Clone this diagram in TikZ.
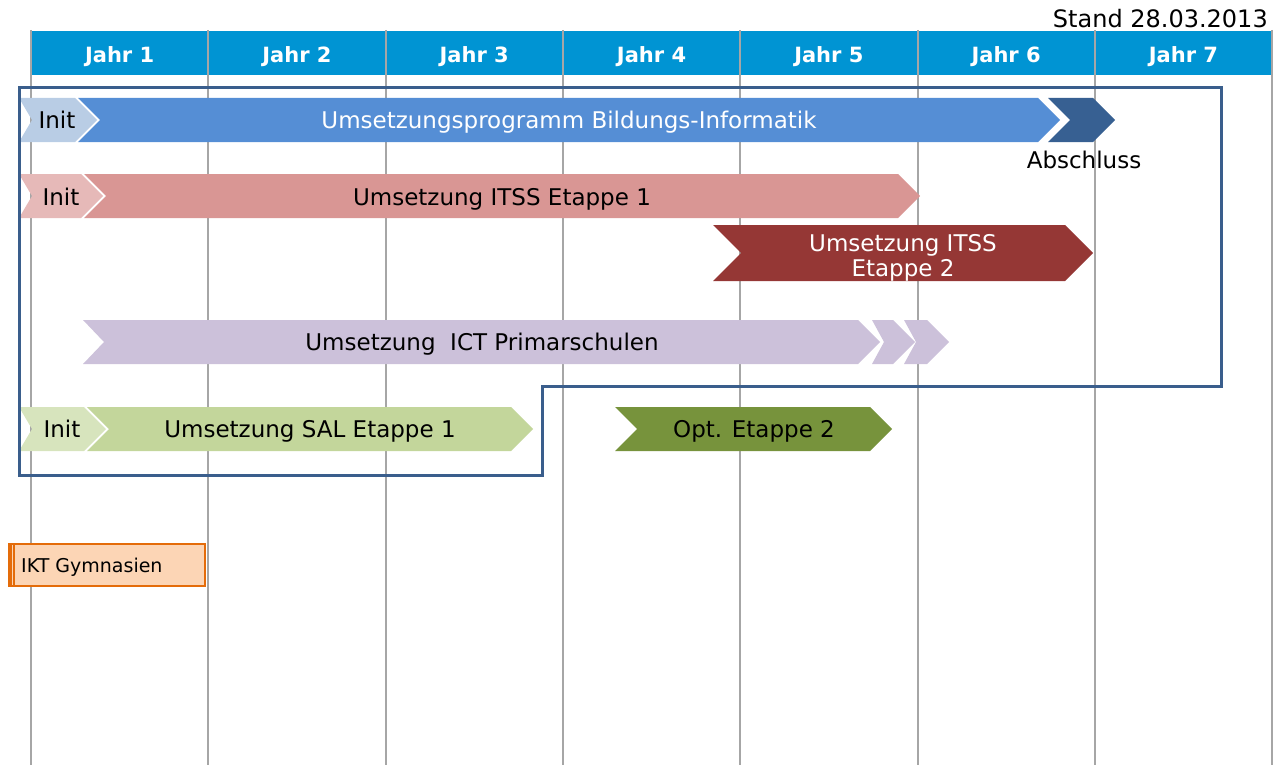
\documentclass[tikz,border=0pt]{standalone}
\usepackage{fontspec}
\setmainfont{DejaVu Sans}
\usepackage{xcolor}
\usepackage{tikz}
\usetikzlibrary{positioning}

\definecolor{hdrblue}{RGB}{0,148,211}
\definecolor{gridgray}{RGB}{166,166,166}
\definecolor{framblue}{RGB}{58,94,140}
\definecolor{initblue}{RGB}{185,205,229}
\definecolor{progblue}{RGB}{85,142,213}
\definecolor{endblue}{RGB}{55,96,146}
\definecolor{initrose}{RGB}{230,185,184}
\definecolor{itssrose}{RGB}{217,150,148}
\definecolor{itssred}{RGB}{149,55,53}
\definecolor{ictlila}{RGB}{204,193,218}
\definecolor{initgreen}{RGB}{215,228,189}
\definecolor{salgreen}{RGB}{195,214,155}
\definecolor{optgreen}{RGB}{119,147,60}
\definecolor{iktpeach}{RGB}{252,213,181}
\definecolor{iktorange}{RGB}{228,108,10}

% #1 colour, #2 left, #3 right (top corner), #4 top, #5 bottom, #6 notch depth
\newcommand{\chevron}[6]{%
  \fill[#1] (#2,#4) -- (#3,#4) -- ({#3+(#5-#4)/2},{(#4+#5)/2}) -- (#3,#5)
    -- (#2,#5) -- ({#2+#6},{(#4+#5)/2}) -- cycle;}

\begin{document}
\begin{tikzpicture}[x=1pt, y=-1pt,
    hdr/.style={font=\fontsize{21}{24}\selectfont\bfseries, text=white, text height=15pt, text depth=0pt, inner sep=0pt},
    lbl/.style={font=\fontsize{23}{25}\selectfont, text height=17pt, text depth=0pt, inner sep=0pt}]
    \useasboundingbox (0,0) rectangle (1276,765);
    \fill[hdrblue] (31,31) rectangle (1272,75);
    \foreach \i in {0,...,7}
        \draw[gridgray, line width=2] ({31+177.3*\i},30) -- ({31+177.3*\i},765);
    \foreach \i in {1,...,7}
        \node[hdr] (jahr\i) at ({31+177.3*(\i-0.5)},55) {Jahr \i};
    \node[font=\fontsize{24}{27}\selectfont, anchor=base east, inner sep=0pt] (stand) at (1268,28) {Stand 28.03.2013};

    \chevron{initblue}{19}{75}{98}{142}{13}
    \chevron{progblue}{78}{1038}{98}{142}{22}
    \chevron{endblue}{1048}{1093}{98}{142}{22}
    \node[lbl] (init1) at (57,120) {Init};
    \node[lbl, text=white] (prog) at (569,120) {Umsetzungsprogramm Bildungs-Informatik};
    \node[lbl] (abschluss) at (1084,160) {Abschluss};

    \chevron{initrose}{19}{81}{174}{218}{13}
    \chevron{itssrose}{84}{898}{174}{218}{22}
    \node[lbl] (init2) at (61,197) {Init};
    \node[lbl] (itss1) at (502,197) {Umsetzung ITSS Etappe 1};

    \chevron{itssred}{713}{1065}{225}{281}{28}
    \node[lbl, text=white, text height=, align=center] (itss2) at (903,255) {Umsetzung ITSS\\Etappe 2};

    \chevron{ictlila}{83}{858}{320}{364}{21}
    \chevron{ictlila}{872}{893}{320}{364}{12}
    \chevron{ictlila}{904}{927}{320}{364}{12}
    \node[lbl] (ict) at (482,342) {Umsetzung\ \ ICT Primarschulen};

    \chevron{initgreen}{19}{84}{407}{451}{13}
    \chevron{salgreen}{87}{511}{407}{451}{22}
    \chevron{optgreen}{615}{870}{407}{451}{22}
    \node[lbl] (init3) at (62,429) {Init};
    \node[lbl] (sal1) at (310,429) {Umsetzung SAL Etappe 1};
    \node[lbl] (opt2) at (754,429) {Opt. Etappe 2};

    \draw[framblue, line width=3, line join=miter]
        (19,88) -- (1221,88) -- (1221,386) -- (542,386) -- (542,475) -- (19,475) -- cycle;

    \node[draw=iktorange, fill=iktpeach, line width=1.5, minimum width=196pt, minimum height=42pt,
        anchor=north west, inner sep=0pt] (ikt) at (8,543) {};
    \fill[iktorange] (ikt.north west) rectangle ([xshift=4]ikt.south west);
    \draw[iktorange, line width=1.2] ([xshift=6]ikt.north west) -- ([xshift=6]ikt.south west);
    \node[font=\fontsize{19}{22}\selectfont, anchor=west, text height=14pt, text depth=0pt, inner sep=0pt]
        (iktlbl) at (21,565) {IKT Gymnasien};
\end{tikzpicture}
\end{document}
